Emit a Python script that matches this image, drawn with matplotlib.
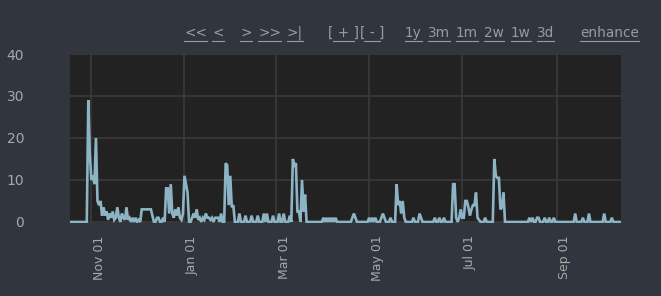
import numpy as np
import pandas as pd
import matplotlib
matplotlib.use('Agg')
import matplotlib.pyplot as plt
import matplotlib.dates as mdates
from matplotlib.transforms import ScaledTranslation
from matplotlib.lines import Line2D

# daily values (starting 2023-10-18)
values = [
    0, 0, 0, 0, 0, 0, 0, 0, 0, 0,
    0, 0, 29, 16, 10, 11, 9, 20, 5, 4,
    5, 1.5, 3.5, 1.5, 2.5, 0.5, 2, 1, 2.5, 0.5,
    1, 3.5, 1, 0, 2, 1, 0.5, 3.5, 0.5, 1,
    0, 1, 0, 1, 0, 0.5, 0, 3, 3, 3,
    3, 3, 3, 3, 1.5, 0, 0, 1, 1, 0,
    0, 1, 0, 8, 8, 2, 9, 2, 1, 3,
    1.5, 3.5, 1, 0.5, 2, 11, 9, 7, 0, 0,
    1, 2, 1, 3, 0.5, 1, 0, 1, 0.5, 2,
    1, 1, 0.5, 1, 0, 1, 1, 1, 0, 2,
    0, 0, 14, 13.5, 4, 11, 3.5, 4, 0, 0,
    0, 2, 0, 0, 0, 1.5, 0, 0, 0, 1.5,
    0, 0, 0, 1.5, 0, 0, 0, 2, 0, 2,
    0, 0, 0, 1.5, 0, 0, 0, 2, 0, 0,
    2, 0, 0, 0, 1.5, 0, 15, 13.5, 14, 2.5,
    2.5, 0, 10, 2.5, 6.5, 0, 0, 0, 0, 0,
    0, 0, 0, 0, 0, 0, 1, 0, 1, 0,
    1, 0, 1, 0, 1, 0, 0, 0, 0, 0,
    0, 0, 0, 0, 0, 1, 2, 1, 0, 0,
    0, 0, 0, 0, 0, 0, 1, 0, 1, 0,
    1, 0, 0, 0, 1, 2, 1, 0, 0, 0,
    1, 0, 0, 0, 9, 4, 5, 2, 5, 1,
    0, 0, 0, 0, 0, 1, 0, 0, 0, 2,
    1, 0, 0, 0, 0, 0, 0, 0, 0, 1,
    0, 0, 1, 0, 0, 1, 0, 0, 0, 0,
    0, 9, 9, 1, 0, 1, 3, 1, 1, 5,
    5, 3.5, 1.5, 3, 4, 4, 7, 1, 0.5, 0,
    0, 0, 1, 0, 0, 0, 0, 0, 15, 11,
    10.5, 10.5, 3, 3.5, 7, 0, 0, 0, 0, 0,
    0, 0, 0, 0, 0, 0, 0, 0, 0, 0,
    0, 1, 0, 1, 0, 0, 1, 1, 0, 0,
    0, 1, 0, 0, 1, 0, 0, 1, 0, 0,
    0, 0, 0, 0, 0, 0, 0, 0, 0, 0,
    0, 2, 0, 0, 0, 0, 1, 0, 0, 0,
    2, 0, 0, 0, 0, 0, 0, 0, 0, 0,
    2, 0, 0, 0, 0, 1, 0, 0, 0, 0,
    0, 0,
]
dates = pd.date_range('2023-10-18', periods=len(values), freq='D')

y_ticks = [0, 10, 20, 30, 40]
nav_links = ['<<', '<', '>', '>>', '>|', '[ + ]', '[ - ]',
             '1y', '3m', '1m', '2w', '1w', '3d', 'enhance']
nav_x = [184, 212, 240, 258, 287, 328, 360, 405, 428, 456, 484, 511, 537, 580]

page_bg = '#31353d'
plot_bg = '#222222'
grid_col = '#3b3b3b'
text_col = '#a8a8a8'
line_col = '#8db4c4'

fig = plt.figure(figsize=(6.61, 2.96), dpi=100, facecolor=page_bg)
ax = fig.add_axes([70 / 661, 1 - 223 / 296, 551 / 661, 169 / 296])
ax.set_facecolor(plot_bg)

ax.plot(dates, values, color=line_col, linewidth=1.9, solid_joinstyle='miter')

ax.set_xlim(dates[0], dates[-1])
ax.set_ylim(-0.25, 40)
ax.set_yticks(y_ticks)
ax.xaxis.set_major_locator(mdates.MonthLocator(bymonth=[1, 3, 5, 7, 9, 11]))
ax.xaxis.set_major_formatter(mdates.DateFormatter('%b %d'))

ax.grid(True, color=grid_col, linewidth=1.2)
ax.set_axisbelow(True)
for s in ax.spines.values():
    s.set_visible(False)

ax.tick_params(axis='y', length=0, pad=33, labelsize=10, labelcolor=text_col)
ax.tick_params(axis='x', length=0, pad=9, labelsize=9, labelcolor=text_col)

offset = ScaledTranslation(8 / 100, 0, fig.dpi_scale_trans)
for lab in ax.get_xticklabels():
    lab.set_rotation(90)
    lab.set_ha('center')
    lab.set_va('top')
    lab.set_transform(lab.get_transform() + offset)

# navigation links along the top, underlined
renderer = fig.canvas.get_renderer()
for txt, x in zip(nav_links, nav_x):
    t = fig.text(x / 661, 1 - 33 / 296, txt, color='#9b9b9b', fontsize=9.8,
                 ha='left', va='center')
    bb = t.get_window_extent(renderer)
    x0, x1 = bb.x0, bb.x1
    if txt.startswith('['):
        w = (x1 - x0) / len(txt)
        x0 += w * 0.8
        x1 -= w * 0.8
    fig.add_artist(Line2D([x0 / 661, x1 / 661], [1 - 41 / 296, 1 - 41 / 296],
                          color='#9b9b9b', linewidth=0.8))

fig.savefig('out.png', dpi=100, facecolor=page_bg)
